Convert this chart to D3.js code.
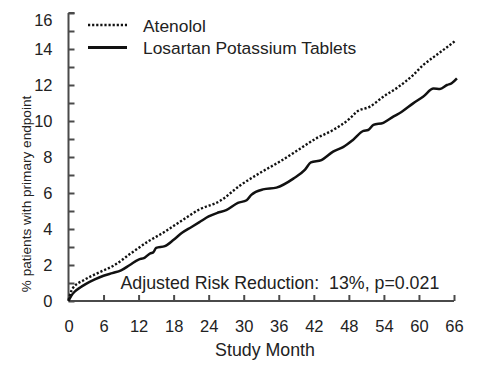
<!DOCTYPE html>
<html>
<head>
<meta charset="utf-8">
<script src="https://cdn.jsdelivr.net/npm/d3@7/dist/d3.min.js"></script>
<style>
  html, body { margin: 0; padding: 0; background: #fff; }
  svg { display: block; }
  text { font-family: "Liberation Sans", Arial, sans-serif; fill: #222; }
</style>
</head>
<body>
<svg id="chart" width="477" height="365"></svg>
<script>
// ---- data ----
const losartanMonths = [0, 0.5, 1, 2, 3, 4.5, 6, 7.5, 9, 10.5, 12, 13, 14, 14.5, 15, 16.5, 18, 19.5, 21, 22.5, 24, 25.5, 27, 29, 30.5, 31.3, 33.3, 35.6, 38.5, 40.5, 41.5, 43.3, 45.3, 47, 48.7, 50.5, 51.3, 52.2, 53.9, 55.6, 57, 59, 60.7, 62.5, 63.6, 64.8, 65.6, 66.5];
const losartanValues = [0, 0.3, 0.5, 0.75, 0.95, 1.2, 1.4, 1.55, 1.7, 2.0, 2.3, 2.4, 2.65, 2.7, 2.95, 3.05, 3.4, 3.8, 4.1, 4.4, 4.7, 4.9, 5.05, 5.45, 5.6, 5.9, 6.2, 6.3, 6.8, 7.3, 7.7, 7.83, 8.3, 8.55, 8.95, 9.45, 9.5, 9.78, 9.9, 10.24, 10.5, 10.98, 11.35, 11.8, 11.78, 12.0, 12.1, 12.37];
const atenololMonths = [0, 0.7, 2.7, 5, 7.9, 10.7, 13.6, 16.5, 19.3, 22.5, 25.9, 29.3, 32.7, 36.2, 39.6, 42.5, 45.3, 48.2, 49.3, 51.6, 53.9, 56.5, 59, 60.7, 62.5, 64.8, 66.2];
const atenololValues = [0.05, 0.7, 1.17, 1.55, 2.0, 2.65, 3.3, 3.85, 4.45, 5.1, 5.55, 6.4, 7.1, 7.75, 8.45, 9.05, 9.5, 10.15, 10.5, 10.8, 11.35, 11.9, 12.55, 13.1, 13.55, 14.1, 14.45];
const xTicks = [0, 6, 12, 18, 24, 30, 36, 42, 48, 54, 60, 66];
const yTicks = [0, 1, 2, 3, 4, 5, 6, 7, 8, 9, 10, 11, 12, 13, 14, 15, 16];
const yLabelTicks = [0, 2, 4, 6, 8, 10, 12, 14, 16];
const seriesNames = ["Atenolol", "Losartan Potassium Tablets"];
const annotationText = "Adjusted Risk Reduction:  13%, p=0.021";
const xTitle = "Study Month";
const yTitle = "% patients with primary endpoint";

// ---- chart ----
const svg = d3.select("#chart");
const x = d3.scaleLinear().domain([0, 66]).range([68.5, 454]);
const y = d3.scaleLinear().domain([0, 16]).range([301, 13]);
const axisColor = "#4a4a4a";

// y axis
const yAxis = d3.axisLeft(y).tickValues(yTicks).tickSize(-6).tickPadding(16)
  .tickFormat(d => yLabelTicks.includes(d) ? d : "");
const gy = svg.append("g").attr("transform", "translate(68.5,0)").call(yAxis);
gy.select(".domain").attr("d", `M0,${y(16)}H6M0,${y(16)}V${y(0)}`).attr("stroke", axisColor).attr("stroke-width", 2);
gy.selectAll(".tick line").attr("stroke", axisColor).attr("stroke-width", 2);
gy.selectAll(".tick text").style("font-size", "16.5px").style("fill", "#222").attr("font-family", null);
gy.selectAll(".tick text").filter(d => d === 16).attr("dy", "0.75em");

// x axis
const xAxis = d3.axisBottom(x).tickValues(xTicks).tickSize(-6).tickPadding(19).tickFormat(d => d);
const gx = svg.append("g").attr("transform", `translate(0,${y(0)})`).call(xAxis);
gx.select(".domain").attr("d", `M${x(0)},0H${x(66)}`).attr("stroke", axisColor).attr("stroke-width", 2);
gx.selectAll(".tick line").attr("stroke", axisColor).attr("stroke-width", 2);
gx.selectAll(".tick text").style("font-size", "16.5px").style("fill", "#222").attr("font-family", null);

// lines
const line = d3.line().x(d => x(d[0])).y(d => y(d[1])).curve(d3.curveMonotoneX);
const atenolol = atenololMonths.map((m, i) => [m, atenololValues[i]]);
const losartan = losartanMonths.map((m, i) => [m, losartanValues[i]]);

svg.append("path").datum(atenolol).attr("d", line)
  .attr("fill", "none").attr("stroke", "#111").attr("stroke-width", 2.4)
  .attr("stroke-dasharray", "2.2,1.9");
svg.append("path").datum(losartan).attr("d", line)
  .attr("fill", "none").attr("stroke", "#111").attr("stroke-width", 2.5)
  .attr("stroke-linejoin", "round");

// legend
const lg = svg.append("g");
lg.append("line").attr("x1", 88).attr("x2", 127).attr("y1", 25).attr("y2", 25)
  .attr("stroke", "#111").attr("stroke-width", 2.4).attr("stroke-dasharray", "2.2,1.9");
lg.append("line").attr("x1", 88).attr("x2", 127).attr("y1", 47.5).attr("y2", 47.5)
  .attr("stroke", "#111").attr("stroke-width", 2.8);
lg.append("text").attr("x", 143).attr("y", 31.5).style("font-size", "17.4px").text(seriesNames[0]);
lg.append("text").attr("x", 143).attr("y", 53.5).style("font-size", "17.4px").text(seriesNames[1]);

// annotation
svg.append("text").attr("x", 120.5).attr("y", 289).style("font-size", "17.8px")
  .style("white-space", "pre").text(annotationText);

// axis titles
svg.append("text").attr("x", 265).attr("y", 356).attr("text-anchor", "middle")
  .style("font-size", "17.8px").text(xTitle);
svg.append("text").attr("transform", "translate(31,194) rotate(-90)").attr("text-anchor", "middle")
  .style("font-size", "13.6px").text(yTitle);
</script>
</body>
</html>
